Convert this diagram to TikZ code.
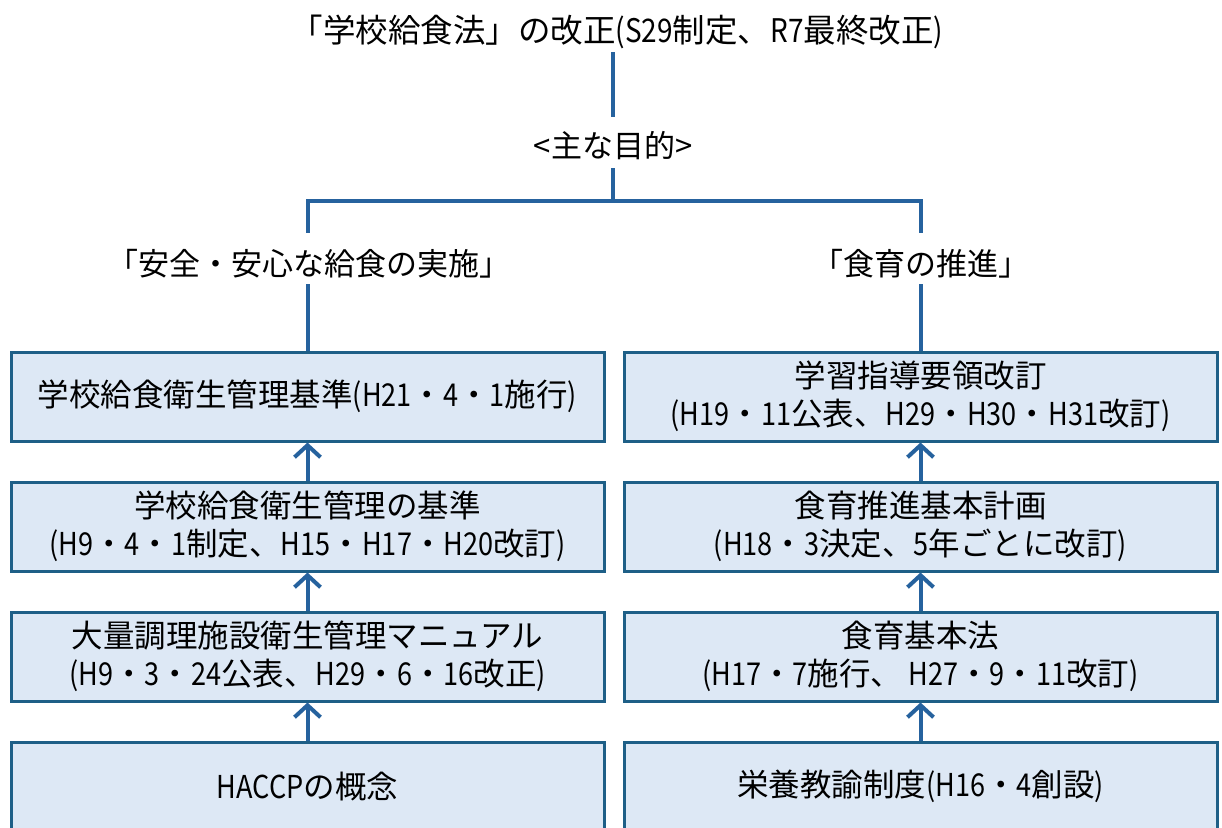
\documentclass[tikz,border=0pt]{standalone}
\usepackage{fontspec}
\setmainfont{Noto Sans CJK JP}
\newfontfamily\latn[FakeStretch=0.86]{Noto Sans CJK JP}
\newcommand\lt[1]{{\latn #1}}
\usetikzlibrary{arrows.meta}
\definecolor{lineblue}{RGB}{38,98,158}
\definecolor{boxborder}{RGB}{30,95,135}
\definecolor{boxfill}{RGB}{221,232,245}
\begin{document}
\begin{tikzpicture}[x=1pt,y=-1pt,
  txt/.style={inner sep=0pt,text height=26pt,text depth=2pt,font=\fontsize{31}{38}\selectfont},
  box/.style={draw=boxborder,line width=3pt,fill=boxfill,minimum width=593pt,minimum height=89pt,inner sep=0pt,align=center,font=\fontsize{31.5}{38}\selectfont},
  conn/.style={draw=lineblue,line width=4pt},
  uparrow/.style={conn,-{Straight Barb[length=12pt,width=26pt]}}]
\useasboundingbox (0,0) rectangle (1222,827);
\fill[white] (0,0) rectangle (1222,827);

\node[txt,font=\fontsize{32.5}{38}\selectfont] (t) at (617,30) {「学校給食法」の改正\lt{(S29}制定、\lt{R7}最終改正\lt{)}};
\node[txt] (m) at (613,145) {<主な目的>};
\node[txt] (ll) at (309,263) {「安全・安心な給食の実施」};
\node[txt] (lr) at (920.5,263) {「食育の推進」};
\coordinate (j) at (613,201);

\node[box] (l1) at (307.5,396.5) {学校給食衛生管理基準\lt{(H21}・\lt{4}・\lt{1}施行\lt{)}};
\node[box] (l2) at (307.5,526.5) {学校給食衛生管理の基準\\\lt{(H9}・\lt{4}・\lt{1}制定、\lt{H15}・\lt{H17}・\lt{H20}改訂\lt{)}};
\node[box] (l3) at (307.5,656.5) {大量調理施設衛生管理マニュアル\\\lt{(H9}・\lt{3}・\lt{24}公表、\lt{H29}・\lt{6}・\lt{16}改正\lt{)}};
\node[box] (l4) at (307.5,786.5) {\lt{HACCP}の概念};

\node[box] (r1) at (920.5,396.5) {学習指導要領改訂\\\lt{(H19}・\lt{11}公表、\lt{H29}・\lt{H30}・\lt{H31}改訂\lt{)}};
\node[box] (r2) at (920.5,526.5) {食育推進基本計画\\\lt{(H18}・\lt{3}決定、\lt{5}年ごとに改訂\lt{)}};
\node[box] (r3) at (920.5,656.5) {食育基本法\\\lt{(H17}・\lt{7}施行、\lt{\ H27}・\lt{9}・\lt{11}改訂\lt{)}};
\node[box] (r4) at (920.5,786.5) {栄養教諭制度\lt{(H16}・\lt{4}創設\lt{)}};

\draw[conn] ([xshift=-4pt,yshift=-8pt]t.south) -- ([yshift=14pt]m.north);
\draw[conn] ([yshift=-9pt]m.south) -- (j);
\draw[conn] ([xshift=-1.5pt,yshift=16pt]ll.north) |- (j) -| ([yshift=16pt]lr.north);
\draw[conn] ([xshift=-1.5pt,yshift=-7pt]ll.south) -- (l1.north);
\draw[conn] ([yshift=-7pt]lr.south) -- (r1.north);

\draw[uparrow] (l2.north) -- (l1.south);
\draw[uparrow] (l3.north) -- (l2.south);
\draw[uparrow] (l4.north) -- (l3.south);
\draw[uparrow] (r2.north) -- (r1.south);
\draw[uparrow] (r3.north) -- (r2.south);
\draw[uparrow] (r4.north) -- (r3.south);
\end{tikzpicture}
\end{document}
